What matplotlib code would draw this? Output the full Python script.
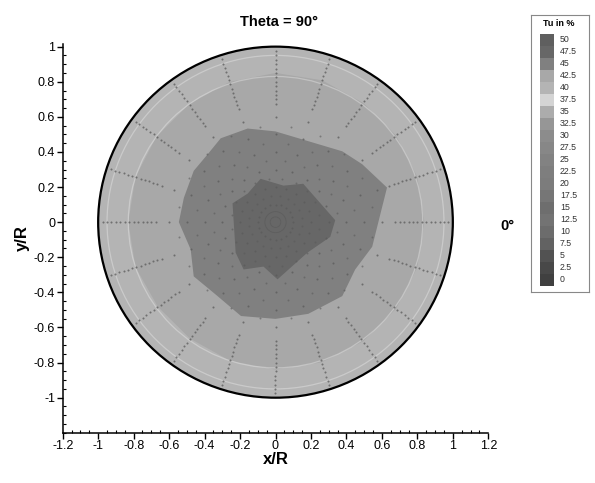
import numpy as np
import matplotlib
matplotlib.use("Agg")
import matplotlib.pyplot as plt
from matplotlib.colors import ListedColormap, BoundaryNorm
from matplotlib.patches import Circle, Polygon
from matplotlib.ticker import MultipleLocator

plt.rcParams['font.family'] = ['Liberation Sans', 'DejaVu Sans']

# ---------------- data ----------------
levels = [0, 2.5, 5, 7.5, 10, 12.5, 15, 17.5, 20, 22.5, 25, 27.5, 30, 32.5,
          35, 37.5, 40, 42.5, 45, 47.5, 50]
level_labels = ["0", "2.5", "5", "7.5", "10", "12.5", "15", "17.5", "20", "22.5",
                "25", "27.5", "30", "32.5", "35", "37.5", "40", "42.5", "45",
                "47.5", "50"]
# grey value of each legend swatch (0..255), level order
level_gray = [64, 72, 82, 98, 108, 115, 110, 118, 124, 126, 130, 135, 140, 150,
              172, 212, 180, 168, 128, 103, 95]

# Tu (%) of each flooded region, outer to inner
region_tu = [41.25, 43.75, 46.25, 48.75]

# region boundaries (polar: angle in deg, r/R)
rim_angles = [0, 18, 36, 54, 72, 90, 108, 126, 144, 162, 180, 198, 216, 234,
              252, 270, 288, 306, 324, 342]
rim_radii = [0.84, 0.84, 0.84, 0.84, 0.85, 0.85, 0.84, 0.83, 0.83, 0.83, 0.83,
             0.83, 0.82, 0.82, 0.83, 0.84, 0.84, 0.84, 0.84, 0.84]

mid_angles = [17.4, 34, 47, 68.1, 90, 106.4, 122.9, 134.6, 147.6, 165, 180,
              198, 213.8, 232, 250, 270, 289.5, 311.8, 329, 345.6]
mid_radii = [0.659, 0.590, 0.552, 0.497, 0.517, 0.556, 0.569, 0.544, 0.546,
             0.535, 0.545, 0.503, 0.555, 0.533, 0.569, 0.551, 0.554, 0.565,
             0.524, 0.563]

core_angles = [1.9, 54.4, 77.8, 108.8, 133.9, 156.1, 217.7, 236.3, 255, 272,
               316, 344.8]
core_radii = [0.337, 0.269, 0.213, 0.261, 0.226, 0.265, 0.284, 0.324, 0.262,
              0.326, 0.250, 0.320]

# measurement grid
probe_angles = np.arange(0, 360, 18)
probe_r_inner = [0.1, 0.2, 0.3, 0.4, 0.5, 0.6]
probe_r_outer = [0.675, 0.7, 0.725, 0.75, 0.775, 0.8, 0.825, 0.85, 0.875, 0.9,
                 0.925, 0.95, 0.975]

x_ticks = [-1.2, -1, -0.8, -0.6, -0.4, -0.2, 0, 0.2, 0.4, 0.6, 0.8, 1, 1.2]
x_labels = ["-1.2", "-1", "-0.8", "-0.6", "-0.4", "-0.2", "0", "0.2", "0.4",
            "0.6", "0.8", "1", "1.2"]
y_ticks = [-1, -0.8, -0.6, -0.4, -0.2, 0, 0.2, 0.4, 0.6, 0.8, 1]
y_labels = ["-1", "-0.8", "-0.6", "-0.4", "-0.2", "0", "0.2", "0.4", "0.6",
            "0.8", "1"]

# ---------------- colours ----------------
gray_cols = [(g / 255, g / 255, g / 255) for g in level_gray]
cmap = ListedColormap(gray_cols[:-1])
norm = BoundaryNorm(levels, cmap.N)


def polar_xy(ang, rad):
    a = np.deg2rad(np.asarray(ang, float))
    r = np.asarray(rad, float)
    return np.column_stack([r * np.cos(a), r * np.sin(a)])


W, H = 595, 483
fig = plt.figure(figsize=(W / 100, H / 100), dpi=100)
ax = fig.add_axes([62.7 / W, (H - 432.8) / H, 425.6 / W, 388.8 / H])
ax.set_xlim(-1.2, 1.2)
ax.set_ylim(-1.2, 1.015)

# flooded regions
ax.add_patch(Circle((0, 0), 1.0, facecolor=cmap(norm(region_tu[0])),
                    edgecolor='none', zorder=1))
ax.add_patch(Polygon(polar_xy(rim_angles, rim_radii), closed=True,
                     facecolor=cmap(norm(region_tu[1])), edgecolor='none', zorder=2))
ax.add_patch(Polygon(polar_xy(mid_angles, mid_radii), closed=True,
                     facecolor=cmap(norm(region_tu[2])), edgecolor='none', zorder=3))
ax.add_patch(Polygon(polar_xy(core_angles, core_radii), closed=True,
                     facecolor=cmap(norm(region_tu[3])), edgecolor='none', zorder=4))

# light mesh rings
for rr in (0.83, 0.95):
    ax.add_patch(Circle((0, 0), rr, facecolor='none', edgecolor='white',
                        lw=0.9, alpha=0.3, zorder=5))
for rr in (0.03, 0.06):
    ax.add_patch(Circle((0, 0), rr, facecolor='none', edgecolor='#555555',
                        lw=0.6, alpha=0.5, zorder=5))

# measurement dots
pts = []
for a in probe_angles:
    for r in list(probe_r_inner) + list(probe_r_outer):
        pts.append((a, r))
pts = np.array(pts)
xy = polar_xy(pts[:, 0], pts[:, 1])
ax.scatter(xy[:, 0], xy[:, 1], s=2.2, color='#5a5a5a', linewidths=0,
           alpha=0.75, zorder=6)
# intermediate ring dots
mid_pts = []
for a in probe_angles + 9:
    for r in (0.15, 0.25, 0.35, 0.45, 0.55):
        mid_pts.append((a, r))
mid_pts = np.array(mid_pts)
xy2 = polar_xy(mid_pts[:, 0], mid_pts[:, 1])
ax.scatter(xy2[:, 0], xy2[:, 1], s=2.0, color='#5a5a5a', linewidths=0,
           alpha=0.6, zorder=6)

# outline
ax.add_patch(Circle((0, 0), 1.0, facecolor='none', edgecolor='black',
                    lw=1.6, zorder=7))

# axes styling
for s in ('top', 'right'):
    ax.spines[s].set_visible(False)
for s in ('left', 'bottom'):
    ax.spines[s].set_linewidth(1.1)
ax.set_xticks(x_ticks)
ax.set_xticklabels(x_labels)
ax.set_yticks(y_ticks)
ax.set_yticklabels(y_labels)
ax.xaxis.set_minor_locator(MultipleLocator(0.05))
ax.yaxis.set_minor_locator(MultipleLocator(0.05))
ax.tick_params(which='major', direction='out', length=4, width=1,
               labelsize=9, pad=1.5)
ax.tick_params(which='minor', direction='in', length=2.5, width=0.8)
ax.set_xlabel("x/R", fontsize=12, fontweight='bold', labelpad=0)
ax.set_ylabel("y/R", fontsize=12, fontweight='bold', labelpad=3)

fig.text(279 / W, 1 - 22 / H, "Theta = 90°", ha='center', va='center',
         fontsize=10.5, fontweight='bold')
fig.text(507 / W, 1 - 226 / H, "0°", ha='center', va='center',
         fontsize=10.5, fontweight='bold')

# legend
lax = fig.add_axes([531 / W, (H - 292) / H, 58 / W, 277 / H])
lax.set_xlim(0, 1)
lax.set_ylim(-1.0, 22.08)
idx = np.arange(len(levels))
lax.barh(idx, 0.24, left=0.155, height=1.0, color=gray_cols, edgecolor='none')
for i, lab in zip(idx, level_labels):
    lax.text(0.50, i, lab, fontsize=6.3, va='center', ha='left', color='#333333')
lax.text(0.47, 21.35, "Tu in %", fontsize=6.5, fontweight='bold',
         ha='center', va='center')
lax.set_xticks([])
lax.set_yticks([])
for s in lax.spines.values():
    s.set_color('#888888')
    s.set_linewidth(0.8)

fig.savefig("out.png", dpi=100)
